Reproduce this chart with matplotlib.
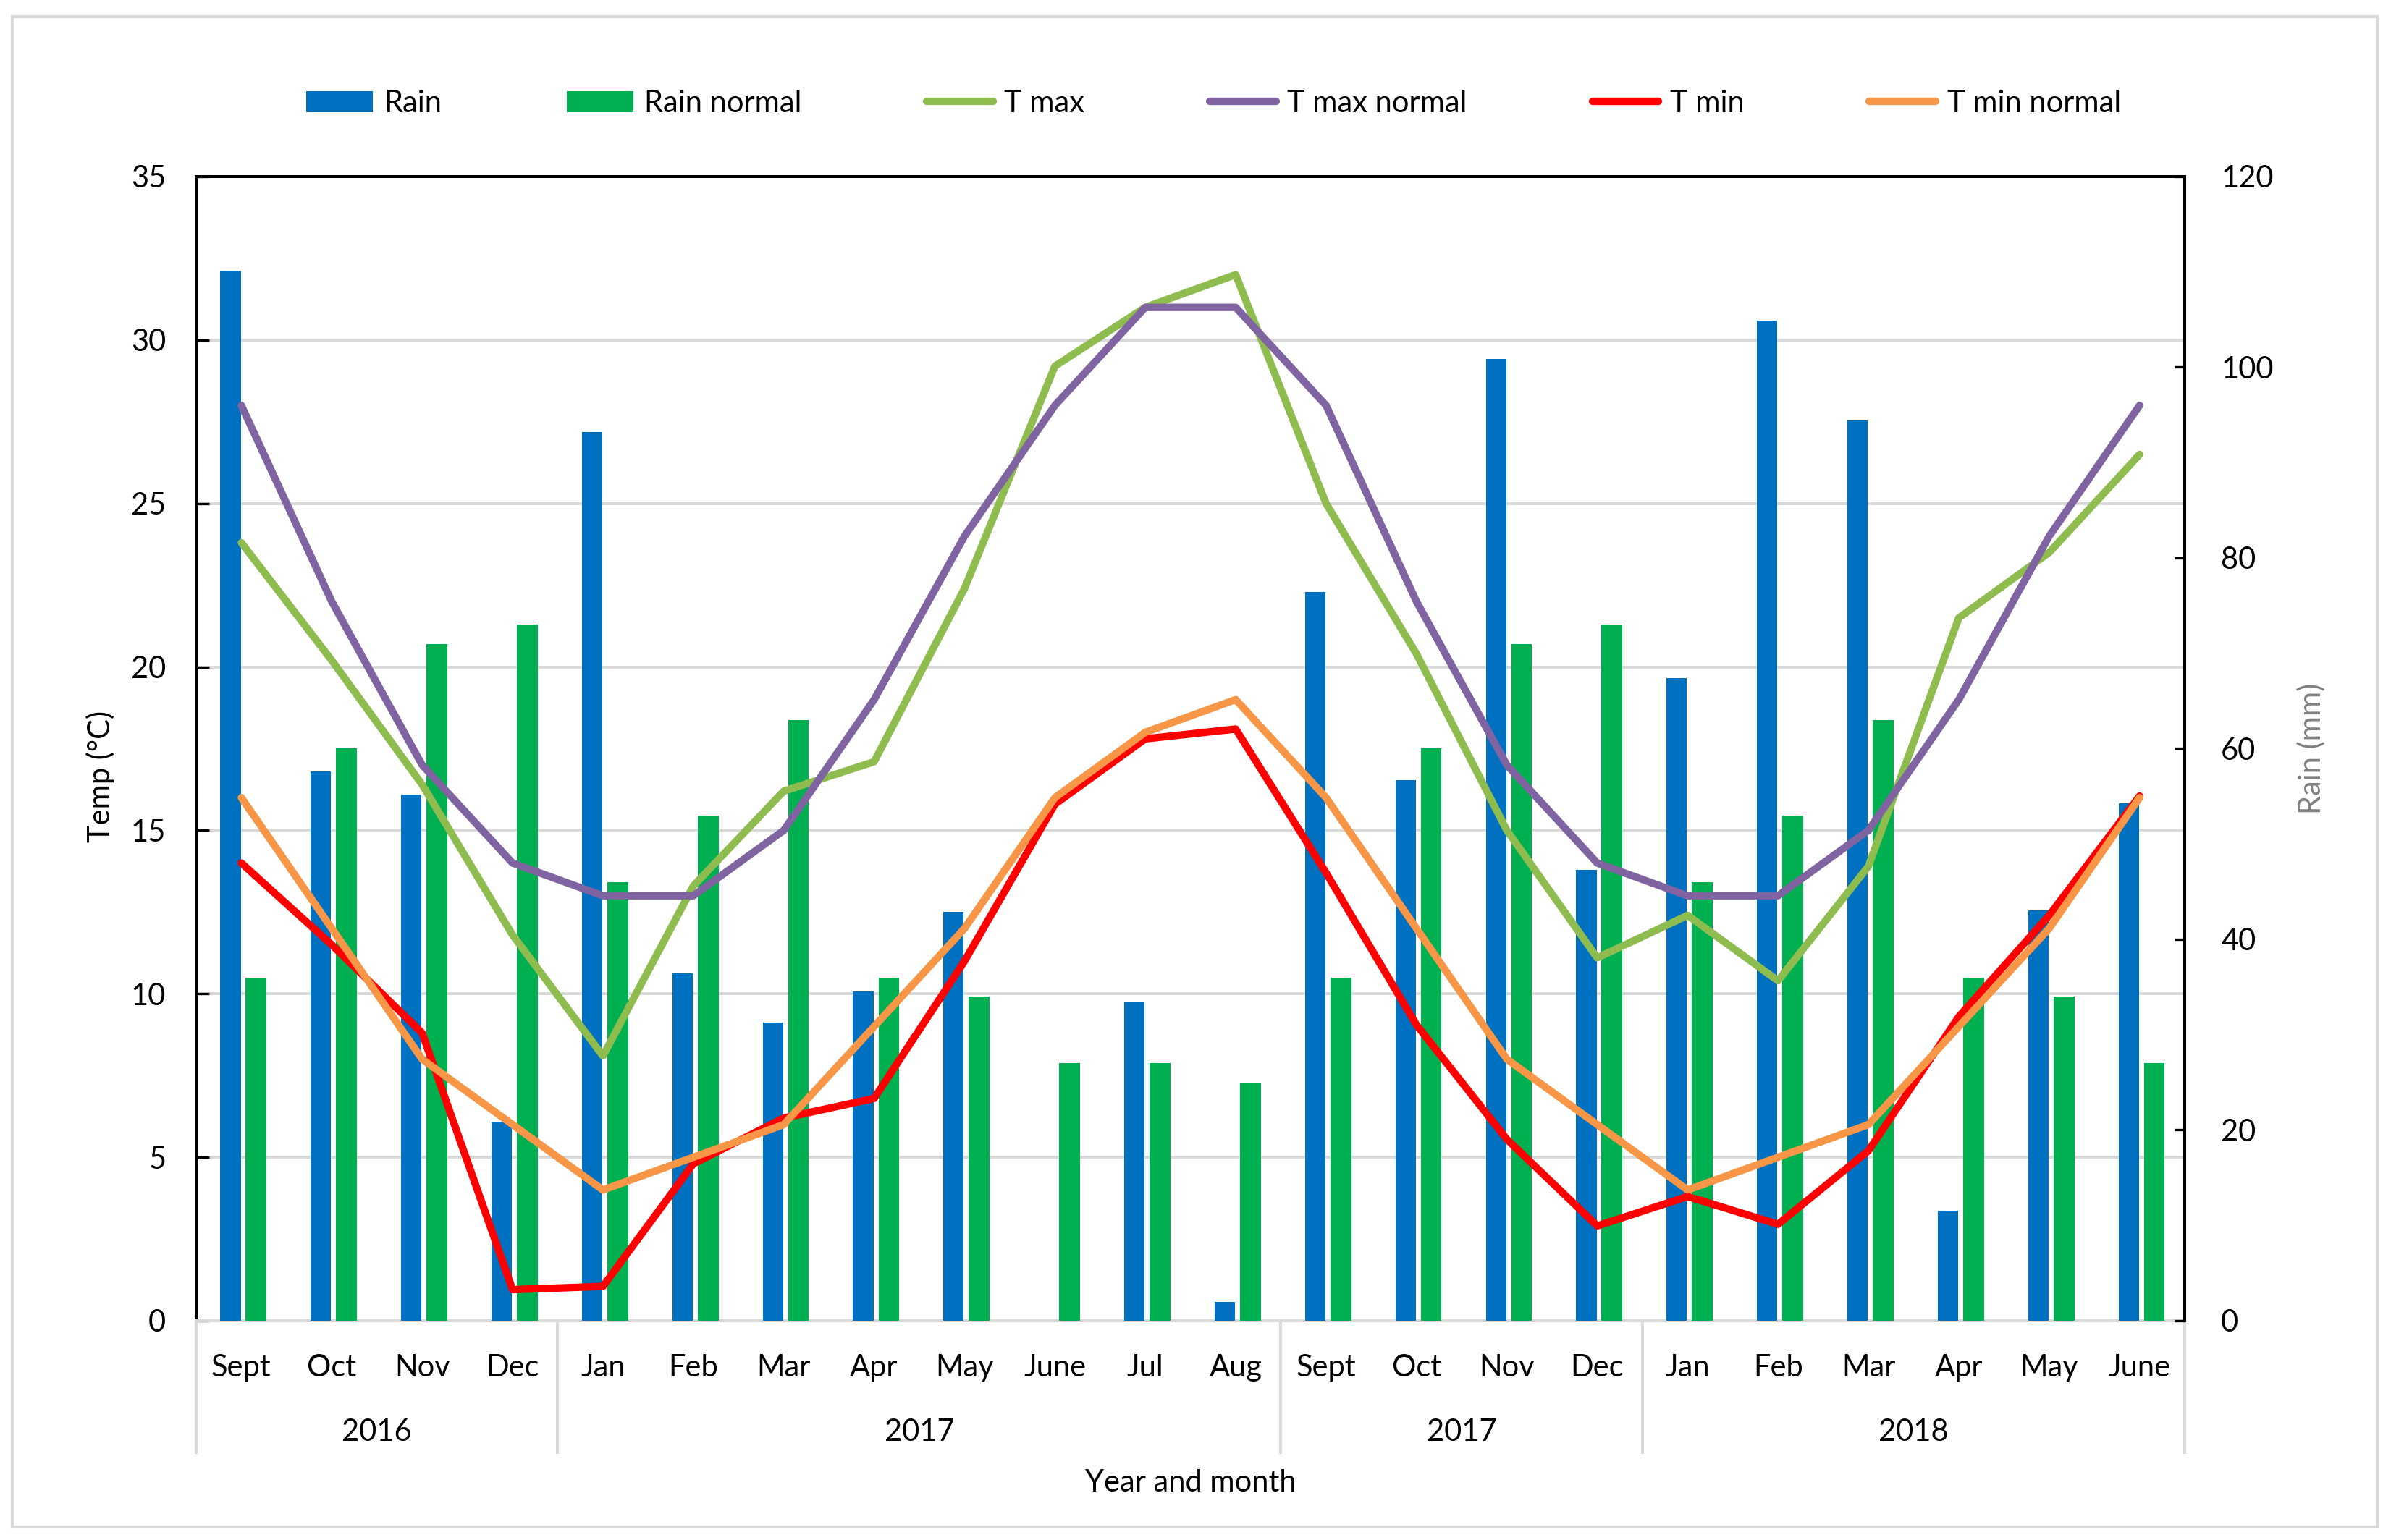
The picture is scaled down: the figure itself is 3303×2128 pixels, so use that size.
import matplotlib
matplotlib.use("Agg")
import matplotlib.pyplot as plt
from matplotlib.patches import Rectangle

plt.rcParams['font.family'] = ['Lato', 'DejaVu Sans']
plt.rcParams['font.size'] = 15

# data
months = ["Sept", "Oct", "Nov", "Dec", "Jan", "Feb", "Mar", "Apr", "May", "June", "Jul", "Aug",
          "Sept", "Oct", "Nov", "Dec", "Jan", "Feb", "Mar", "Apr", "May", "June"]
years = ["2016", "2017", "2017", "2018"]
year_span = [4, 8, 4, 6]

rain = [110.1, 57.6, 55.2, 20.9, 93.2, 36.4, 31.3, 34.5, 42.9, 0, 33.5, 2.0,
        76.4, 56.7, 100.9, 47.3, 67.4, 104.9, 94.4, 11.5, 43.0, 54.3]
rain_normal = [36, 60, 71, 73, 46, 53, 63, 36, 34, 27, 27, 25,
               36, 60, 71, 73, 46, 53, 63, 36, 34, 27]
tmax = [23.8, 20.2, 16.4, 11.8, 8.1, 13.3, 16.2, 17.1, 22.4, 29.2, 31.0, 32.0,
        25.0, 20.4, 15.0, 11.1, 12.4, 10.4, 13.9, 21.5, 23.5, 26.5]
tmax_normal = [28, 22, 17, 14, 13, 13, 15, 19, 24, 28, 31, 31,
               28, 22, 17, 14, 13, 13, 15, 19, 24, 28]
tmin = [14.0, 11.5, 8.8, 0.95, 1.05, 4.8, 6.2, 6.8, 11.0, 15.8, 17.8, 18.1,
        13.7, 9.05, 5.55, 2.9, 3.8, 2.95, 5.2, 9.3, 12.4, 16.05]
tmin_normal = [16, 12, 8, 6, 4, 5, 6, 9, 12, 16, 18, 19,
               16, 12, 8, 6, 4, 5, 6, 9, 12, 16]

GRID = "#D9D9D9"
x = list(range(len(months)))

fig = plt.figure(figsize=(16.515, 10.64), dpi=200)
ax = fig.add_axes([0.08205, 0.14239, 0.8317, 0.74295])
axr = ax.twinx()   # rain bars, right axis
axl = ax.twinx()   # temperature lines, on top

# base axis: temperature scale + grid
ax.set_xlim(-0.5, len(months) - 0.5)
ax.set_ylim(0, 35)
ax.set_yticks(range(0, 36, 5))
ax.set_xticks([])
ax.grid(axis='y', color=GRID, linewidth=1.4)
ax.set_axisbelow(True)
ax.tick_params(axis='y', direction='in', length=6.5, width=1.2, pad=15)
ax.set_ylabel("Temp (°C)")
ax.yaxis.set_label_coords(-0.0408, 0.476)
for s in ['left', 'top', 'right']:
    ax.spines[s].set_color('black')
    ax.spines[s].set_linewidth(1.45)
ax.spines['bottom'].set_color(GRID)
ax.spines['bottom'].set_linewidth(1.45)

# rain bars
b1 = axr.bar([i - 0.12 for i in x], rain, width=0.225, color="#0070C0", label="Rain")
b2 = axr.bar([i + 0.163 for i in x], rain_normal, width=0.23, color="#00B050", label="Rain normal")
axr.set_ylim(0, 120)
axr.set_yticks(range(0, 121, 20))
axr.tick_params(axis='y', direction='in', length=5, width=1.2, pad=18)
axr.set_ylabel("Rain (mm)", color="#808080")
axr.yaxis.set_label_coords(1.0564, 0.5)
for s in ['left', 'top', 'bottom']:
    axr.spines[s].set_visible(False)
axr.spines['right'].set_color('black')
axr.spines['right'].set_linewidth(1.45)

# temperature lines
lw = 3.7
kw = dict(linewidth=lw, solid_capstyle='round', solid_joinstyle='round')
l1, = axl.plot(x, tmax, color="#8FBC4F", label="T max", **kw)
l2, = axl.plot(x, tmax_normal, color="#8064A2", label="T max normal", **kw)
l3, = axl.plot(x, tmin, color="#FF0000", label="T min", **kw)
l4, = axl.plot(x, tmin_normal, color="#F79646", label="T min normal", **kw)
axl.set_ylim(0, 35)
axl.set_yticks([])
for s in axl.spines.values():
    s.set_visible(False)

# multi-level category axis
tr = ax.get_xaxis_transform()
for i, m in enumerate(months):
    ax.text(i, -0.041, m, transform=tr, ha='center', va='center')
start = 0
bounds = [-0.5]
for y, n in zip(years, year_span):
    ax.text(start + (n - 1) / 2, -0.0975, y, transform=tr, ha='center', va='center')
    start += n
    bounds.append(start - 0.5)
for b in bounds:
    ax.plot([b, b], [0, -0.1151], transform=tr, color=GRID, linewidth=1.4, clip_on=False)
ax.text((len(months) - 1) / 2, -0.142, "Year and month", transform=tr, ha='center', va='center')

fig.legend(handles=[b1, b2, l1, l2, l3, l4],
           labels=["Rain", "Rain normal", "T max", "T max normal", "T min", "T min normal"],
           loc='center', bbox_to_anchor=(0.5075, 0.9328), ncol=6, frameon=False,
           columnspacing=4.15, handlelength=2.2, handleheight=0.72, handletextpad=0.37)

# chart area border
fig.patches.append(Rectangle((0.00515, 0.00846), 0.98905, 0.98074, transform=fig.transFigure,
                             fill=False, edgecolor=GRID, linewidth=1.5))

fig.savefig("out.png", dpi=200)
